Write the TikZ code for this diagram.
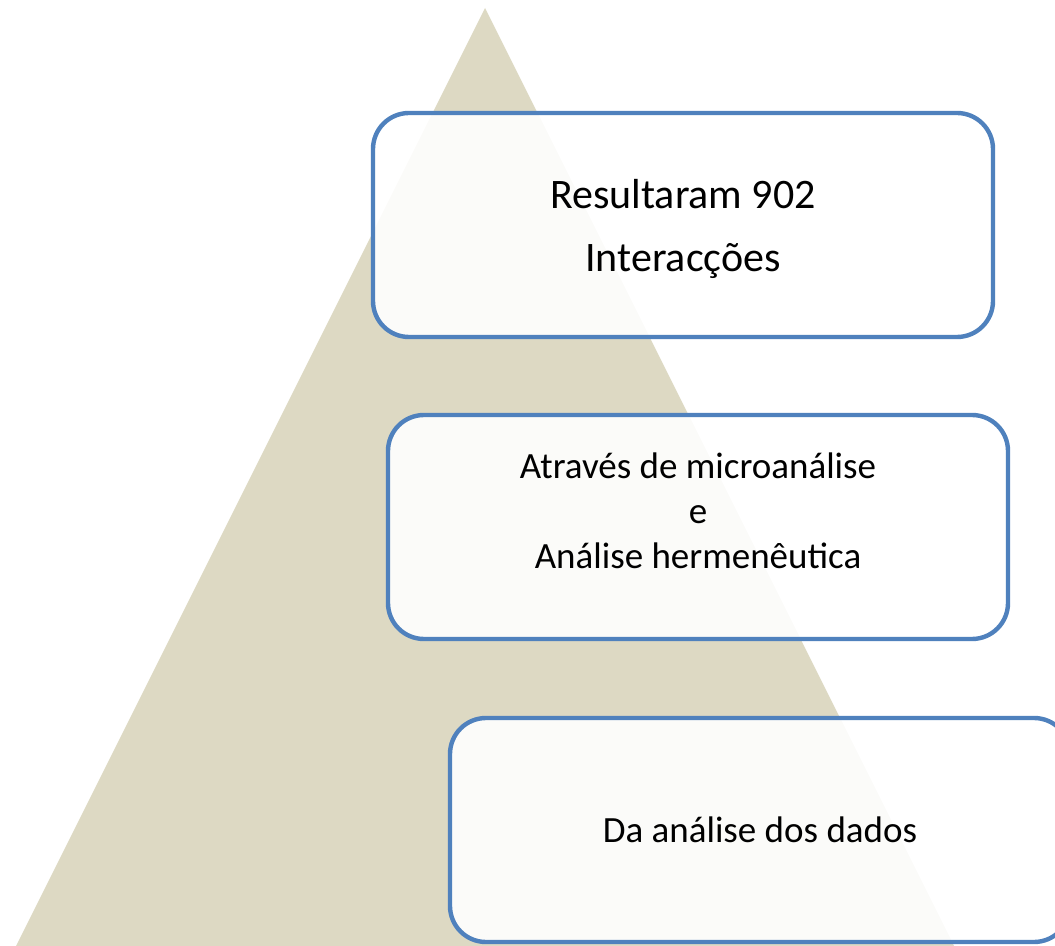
\documentclass[tikz,border=0pt]{standalone}
\usepackage{fontspec}
\setmainfont{Carlito}
\definecolor{pyramidfill}{HTML}{DDD9C3}
\definecolor{boxline}{HTML}{4F81BD}
\begin{document}
\begin{tikzpicture}[x=0.5pt,y=-0.5pt,
	stagebox/.style={draw=boxline, line width=2.2pt, rounded corners=18pt,
		fill=white, fill opacity=0.9, text opacity=1,
		minimum width=310pt, minimum height=112pt, align=center, inner sep=0pt},
	stagetext/.style={align=center, inner sep=0pt}]
	% Page
	\useasboundingbox (0,0) rectangle (1055,946);

	% Pyramid
	\fill[pyramidfill] (485,8) -- (954,946) -- (16,946) -- cycle;

	% Stages
	\node[stagebox] (result) at (683,225) {};
	\node[stagetext, font=\fontsize{21}{31.5}\selectfont] (resulttext) at ([yshift=-2pt]result.center)
		{Resultaram 902\\Interacções};
	\node[stagebox] (method) at (698,527) {};
	\node[stagetext, font=\fontsize{18.5}{22.5}\selectfont] (methodtext) at ([yshift=8pt]method.center)
		{Através de microanálise\\e\\Análise hermenêutica};
	\node[stagebox, font=\fontsize{18.5}{22.5}\selectfont] (data) at (760,830)
		{Da análise dos dados};
\end{tikzpicture}
\end{document}
